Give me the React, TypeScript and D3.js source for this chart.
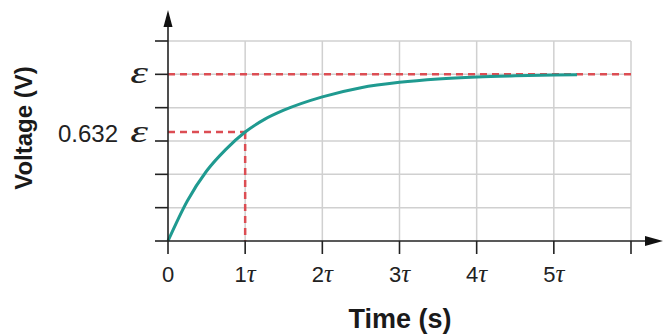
import React, {useEffect, useRef} from 'react';
import * as d3 from 'd3';

// time in units of tau, voltage in units of emf
const timeValues = [0, 0.25, 0.5, 0.75, 1, 1.25, 1.5, 2, 2.5, 3, 3.5, 4, 4.5, 5, 5.3];
const voltageValues = [0, 0.24, 0.42, 0.55, 0.654, 0.73, 0.785, 0.865, 0.92, 0.952, 0.972, 0.984, 0.991, 0.996, 0.998];
const xTicks = [0, 1, 2, 3, 4, 5, 6];
const xTickNums = ['0', '1', '2', '3', '4', '5', ''];
const yTicks = [0, 0.2, 0.4, 0.6, 0.8, 1.0, 1.2];
const emfLevel = 1.0;
const markLevel = 0.654;
const markTime = 1;

const W = 663, H = 335;

const App: React.FC = () => {
  const ref = useRef<SVGSVGElement>(null);

  useEffect(() => {
    const svg = d3.select(ref.current!);
    svg.selectAll('*').remove();

    const x = d3.scaleLinear().domain([0, 6]).range([168, 631]);
    const y = d3.scaleLinear().domain([0, 1.2]).range([241, 41]);

    // grid
    const grid = svg.append('g').attr('stroke', '#d0d0d0').attr('stroke-width', 1.5);
    grid.selectAll('line.v').data(xTicks.slice(1)).join('line')
      .attr('x1', d => x(d)).attr('x2', d => x(d)).attr('y1', y(0)).attr('y2', y(1.2));
    grid.selectAll('line.h').data(yTicks.slice(1)).join('line')
      .attr('x1', x(0)).attr('x2', x(6)).attr('y1', d => y(d)).attr('y2', d => y(d));

    // dashed reference lines
    const dash = svg.append('g').attr('stroke', '#dc4d53').attr('stroke-width', 2.5)
      .attr('stroke-dasharray', '7,5').attr('fill', 'none');
    dash.append('line').attr('x1', x(0)).attr('x2', x(6)).attr('y1', y(emfLevel)).attr('y2', y(emfLevel));
    dash.append('line').attr('x1', x(0)).attr('x2', x(markTime)).attr('y1', y(markLevel)).attr('y2', y(markLevel));
    dash.append('line').attr('x1', x(markTime)).attr('x2', x(markTime)).attr('y1', y(markLevel)).attr('y2', y(0));

    // curve
    const line = d3.line<number>()
      .x((_, i) => x(timeValues[i]))
      .y(d => y(d))
      .curve(d3.curveMonotoneX);
    svg.append('path').datum(voltageValues)
      .attr('d', line)
      .attr('fill', 'none')
      .attr('stroke', '#1f9a90')
      .attr('stroke-width', 3);

    // axes
    const ax = svg.append('g').attr('stroke', '#222').attr('stroke-width', 1.6);
    ax.append('line').attr('x1', x(0)).attr('x2', 648).attr('y1', y(0)).attr('y2', y(0));
    ax.append('line').attr('x1', x(0)).attr('x2', x(0)).attr('y1', y(0)).attr('y2', 24);
    ax.selectAll('line.xt').data(xTicks).join('line')
      .attr('x1', d => x(d)).attr('x2', d => x(d)).attr('y1', y(0)).attr('y2', y(0) + 13);
    ax.selectAll('line.yt').data(yTicks).join('line')
      .attr('x1', x(0) - 13).attr('x2', x(0)).attr('y1', d => y(d)).attr('y2', d => y(d));
    svg.append('path').attr('fill', '#111')
      .attr('d', `M${x(0)},10 L${x(0) - 4.5},27 L${x(0) + 4.5},27 Z`);
    svg.append('path').attr('fill', '#111')
      .attr('d', `M663,${y(0)} L645,${y(0) - 5} L645,${y(0) + 5} Z`);

    // x tick labels
    const xl = svg.append('g').attr('font-family', 'Liberation Sans, Arial, sans-serif')
      .attr('font-size', 22).attr('fill', '#222').attr('text-anchor', 'middle');
    xl.selectAll('text').data(xTicks.filter((_, i) => xTickNums[i] !== '')).join('text')
      .attr('x', d => x(d)).attr('y', 282)
      .each(function (d, i) {
        const t = d3.select(this);
        t.append('tspan').text(xTickNums[i]);
        if (d > 0) {
          t.append('tspan').attr('font-family', 'Liberation Serif, serif').attr('font-style', 'italic')
            .attr('font-size', 25).text('τ');
        }
      });

    // y labels
    const epsilon = (xEnd: number, yBase: number) =>
      svg.append('text').attr('transform', `translate(${xEnd},${yBase}) scale(1.45,1)`)
        .attr('text-anchor', 'end').attr('font-family', 'Liberation Serif, serif')
        .attr('font-style', 'italic').attr('font-size', 31).attr('fill', '#222').text('ε');
    epsilon(148, 83);
    epsilon(148, y(markLevel) + 10);
    svg.append('text').attr('x', 118).attr('y', y(markLevel) + 10)
      .attr('text-anchor', 'end').attr('fill', '#222')
      .attr('font-family', 'Liberation Sans, Arial, sans-serif').attr('font-size', 24)
      .text('0.632');

    // axis titles
    svg.append('text').attr('x', 400).attr('y', 328).attr('text-anchor', 'middle')
      .attr('font-family', 'Liberation Sans, Arial, sans-serif').attr('font-weight', 'bold')
      .attr('font-size', 27).attr('fill', '#1a1a1a').text('Time (s)');
    svg.append('text').attr('transform', 'translate(32,128) rotate(-90)').attr('text-anchor', 'middle')
      .attr('font-family', 'Liberation Sans, Arial, sans-serif').attr('font-weight', 'bold')
      .attr('font-size', 24).attr('fill', '#1a1a1a').text('Voltage (V)');
  }, []);

  return (
    <svg ref={ref} width={W} height={H}
         style={{position: 'absolute', left: 0, top: 0, background: '#fff'}}/>
  );
};

export default App;
